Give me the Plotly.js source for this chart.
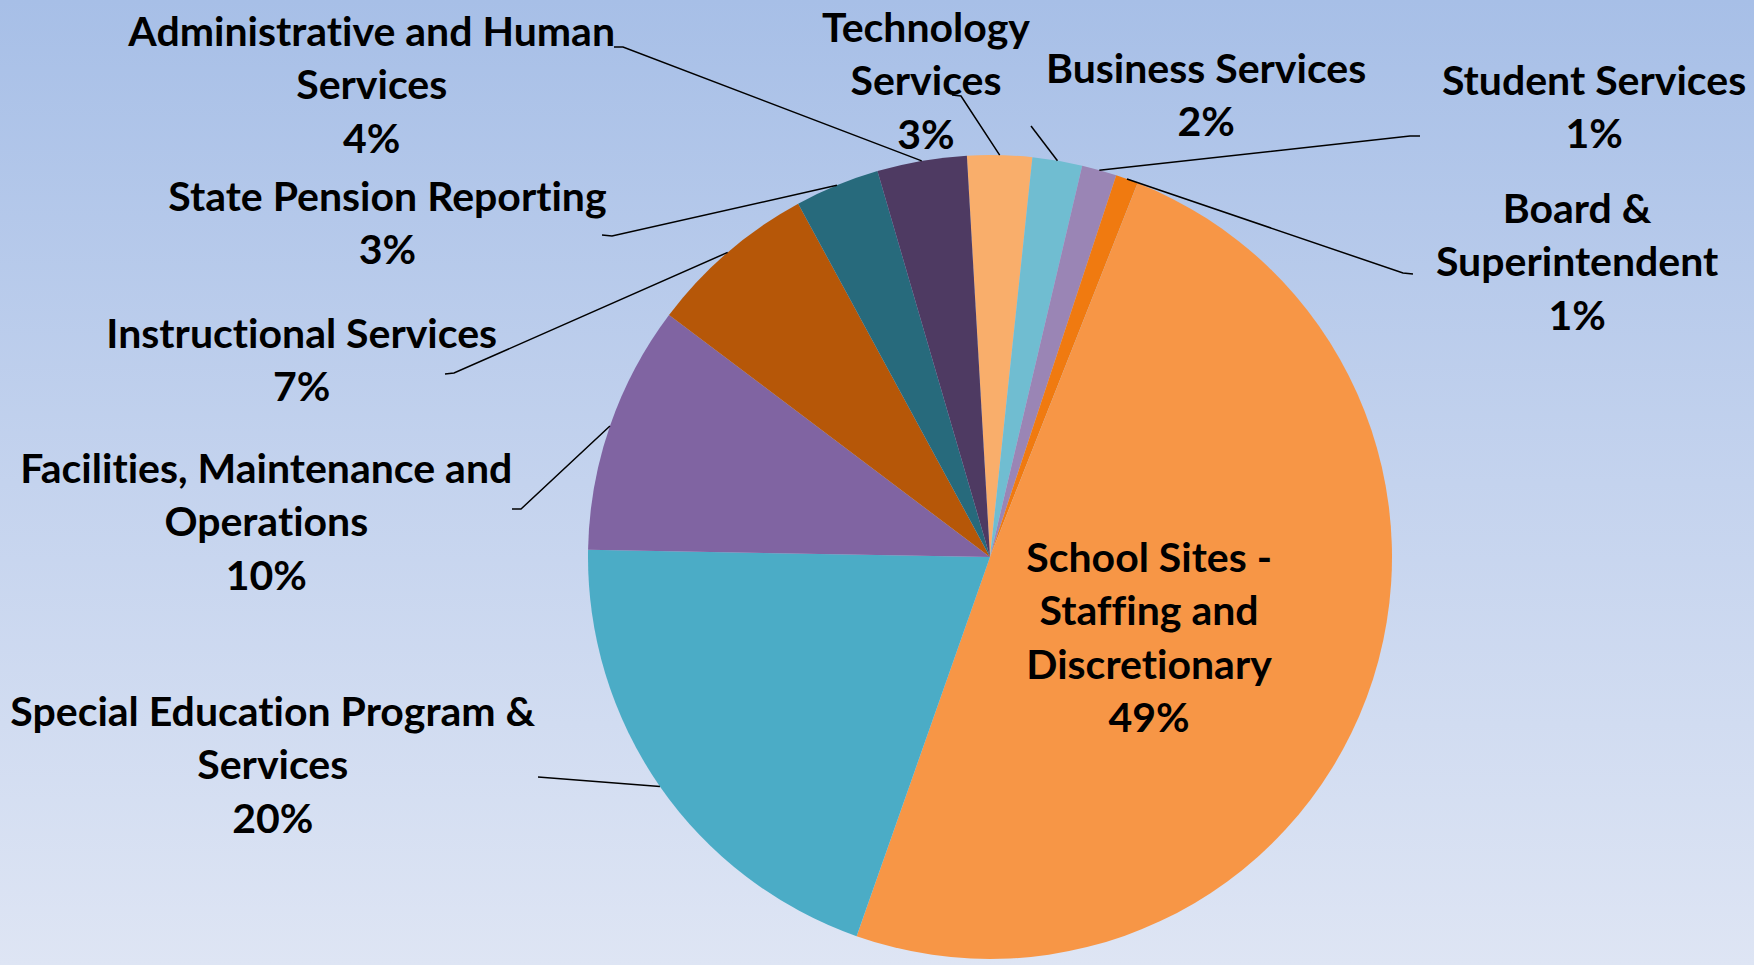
<!DOCTYPE html>
<html>
<head>
<meta charset="utf-8">
<script src="https://cdn.plot.ly/plotly-3.0.1.min.js"></script>
<style>
  html, body { margin: 0; padding: 0; }
  body { width: 1754px; height: 965px; background: linear-gradient(to bottom, #A7BFE7 0%, #C4D3EE 50%, #DEE5F4 100%); overflow: hidden; }
  #chart { width: 1754px; height: 965px; }
  #chart text { font-variant-ligatures: none; font-feature-settings: "liga" 0; }
</style>
</head>
<body>
<div id="chart"></div>
<script>
// ---- data ----
var categories = [
  "Technology Services",
  "Business Services",
  "Student Services",
  "Board & Superintendent",
  "School Sites - Staffing and Discretionary",
  "Special Education Program & Services",
  "Facilities, Maintenance and Operations",
  "Instructional Services",
  "State Pension Reporting",
  "Administrative and Human Services"
];
var values = [2.6, 2.0, 1.4, 0.9, 49.4, 19.9, 10.0, 6.8, 3.4, 3.6];
var wrappedLabels = [
  "Technology<br>Services",
  "Business Services",
  "Student Services",
  "Board &<br>Superintendent",
  "School Sites -<br>Staffing and<br>Discretionary",
  "Special Education Program &<br>Services",
  "Facilities, Maintenance and<br>Operations",
  "Instructional Services",
  "State Pension Reporting",
  "Administrative and Human<br>Services"
];
var colors = ["#F9AE6B", "#70BDD1", "#9A85B5", "#F07A10", "#F79646",
              "#4BACC6", "#8064A2", "#B65708", "#276A7C", "#4E3A62"];

// ---- layout configuration (pixels in the 1754x965 page) ----
var W = 1754, H = 965;
var CX = 990, CY = 557, R = 402;
var ROTATION = -3.3;
// label block centres
var labelPos = [
  [926, 80], [1206, 94], [1594, 106], [1577, 261], [1149, 636],
  [273, 764], [266, 521], [301, 359], [387, 222], [371, 84]
];
// leader-line end (near label) and elbow; null = no leader line
var leaderEnd = [
  [[952, 95], [961, 96]],
  [[1031, 126], [1031, 126]],
  [[1420, 136], [1410, 136]],
  [[1413, 274], [1403, 273]],
  null,
  [[538, 777], [538, 777]],
  [[512, 509], [521, 509]],
  [[445, 374], [454, 373]],
  [[602, 235], [612, 236]],
  [[614, 47], [623, 47]]
];

function px(x) { return x / W; }
function py(y) { return 1 - y / H; }

var total = values.reduce(function (a, b) { return a + b; }, 0);
var annotations = [];
var shapes = [];
var cum = 0;
for (var i = 0; i < values.length; i++) {
  var midDeg = ROTATION + (cum + values[i] / 2) / total * 360;
  cum += values[i];
  var a = midDeg * Math.PI / 180;
  var rimX = CX + R * Math.sin(a);
  var rimY = CY - R * Math.cos(a);
  var pct = Math.round(values[i] / total * 100) + "%";
  annotations.push({
    xref: "paper", yref: "paper",
    x: px(labelPos[i][0]), y: py(labelPos[i][1]),
    xanchor: "center", yanchor: "middle",
    text: wrappedLabels[i] + "<br>" + pct,
    showarrow: false,
    align: "center",
    font: { family: "Lato, 'Open Sans', sans-serif", size: 41, color: "#000000", weight: 700 }
  });
  if (leaderEnd[i]) {
    var e = leaderEnd[i][0], el = leaderEnd[i][1];
    shapes.push({
      type: "path", xref: "paper", yref: "paper",
      path: "M " + px(rimX) + " " + py(rimY) + " L " + px(el[0]) + " " + py(el[1]) + " L " + px(e[0]) + " " + py(e[1]),
      line: { color: "#000000", width: 1.5 }
    });
  }
}

var trace = {
  type: "pie",
  labels: categories,
  values: values,
  sort: false,
  direction: "clockwise",
  rotation: ROTATION,
  textinfo: "none",
  hoverinfo: "label+percent",
  marker: { colors: colors, line: { width: 0 } },
  domain: { x: [(CX - R) / W, (CX + R) / W], y: [1 - (CY + R) / H, 1 - (CY - R) / H] },
  showlegend: false
};

var layout = {
  width: W, height: H,
  margin: { l: 0, r: 0, t: 0, b: 0 },
  paper_bgcolor: "rgba(0,0,0,0)",
  plot_bgcolor: "rgba(0,0,0,0)",
  showlegend: false,
  annotations: annotations,
  shapes: shapes
};

Plotly.newPlot("chart", [trace], layout, { displayModeBar: false, staticPlot: true });
</script>
</body>
</html>
